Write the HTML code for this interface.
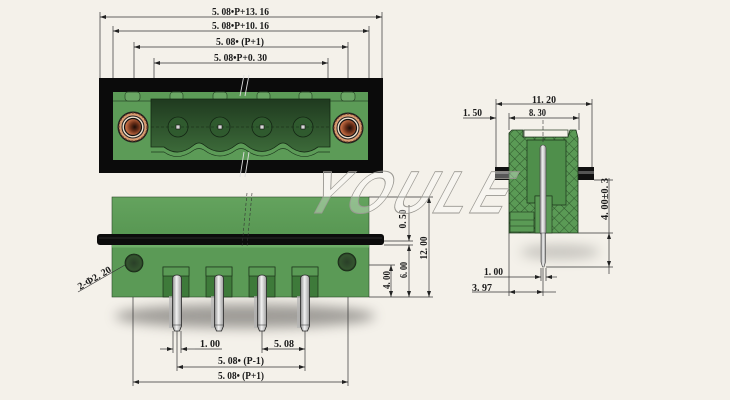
<!DOCTYPE html>
<html><head><meta charset="utf-8"><style>
html,body{margin:0;padding:0;background:#f4f1ea;}
svg{display:block;}
text{font-family:"Liberation Serif",serif;font-weight:bold;fill:#1a1a1a;font-size:10px;}
</style></head><body>
<svg width="730" height="400" viewBox="0 0 730 400" xmlns="http://www.w3.org/2000/svg">
<defs>
<marker id="ar" viewBox="0 0 6 4" markerWidth="6" markerHeight="4" refX="6" refY="2" orient="auto-start-reverse" markerUnits="userSpaceOnUse"><path d="M0,0 L6,2 L0,4 Z" fill="#222"/></marker>
<pattern id="hatch" width="7" height="7" patternUnits="userSpaceOnUse" patternTransform="rotate(45)"><rect width="7" height="7" fill="#5a9a55"/><path d="M0,0 V7 M0,0 H7" stroke="#1f3d1e" stroke-width="0.7"/></pattern>
<linearGradient id="pinG" x1="0" x2="1" y1="0" y2="0"><stop offset="0" stop-color="#8a8a8a"/><stop offset="0.45" stop-color="#f2f2f2"/><stop offset="1" stop-color="#9a9a9a"/></linearGradient>
<linearGradient id="houseG" x1="0" x2="0" y1="0" y2="1"><stop offset="0" stop-color="#1f3a1f"/><stop offset="1" stop-color="#3c6a39"/></linearGradient>
<linearGradient id="upG" x1="0" x2="0" y1="0" y2="1"><stop offset="0" stop-color="#64a35e"/><stop offset="1" stop-color="#589753"/></linearGradient>
<radialGradient id="holeG"><stop offset="0" stop-color="#2a3f28"/><stop offset="0.8" stop-color="#34542f"/><stop offset="1" stop-color="#1c2c1a"/></radialGradient>
<radialGradient id="cuG" cx="0.6" cy="0.5"><stop offset="0" stop-color="#1a0d08"/><stop offset="0.5" stop-color="#6b2f18"/><stop offset="1" stop-color="#c06a42"/></radialGradient>
<filter id="blur" x="-30%" y="-100%" width="160%" height="300%"><feGaussianBlur stdDeviation="6"/></filter>
</defs>

<!-- ============ TOP FRONT VIEW ============ -->
<g stroke="#333" stroke-width="0.7" fill="none">
<line x1="100" y1="12" x2="100" y2="78"/><line x1="382" y1="12" x2="382" y2="78"/>
<line x1="113" y1="26" x2="113" y2="78"/><line x1="369" y1="26" x2="369" y2="78"/>
<line x1="134" y1="42" x2="134" y2="78"/><line x1="348" y1="42" x2="348" y2="78"/>
<line x1="154" y1="58" x2="154" y2="78"/><line x1="328" y1="58" x2="328" y2="78"/>
<line x1="100" y1="17" x2="382" y2="17" marker-start="url(#ar)" marker-end="url(#ar)"/>
<line x1="113" y1="31" x2="369" y2="31" marker-start="url(#ar)" marker-end="url(#ar)"/>
<line x1="134" y1="47" x2="348" y2="47" marker-start="url(#ar)" marker-end="url(#ar)"/>
<line x1="154" y1="63" x2="328" y2="63" marker-start="url(#ar)" marker-end="url(#ar)"/>
</g>
<text x="212" y="15" textLength="57" lengthAdjust="spacingAndGlyphs">5. 08•P+13. 16</text>
<text x="212" y="29" textLength="57" lengthAdjust="spacingAndGlyphs">5. 08•P+10. 16</text>
<text x="216" y="45" textLength="48" lengthAdjust="spacingAndGlyphs">5. 08• (P+1)</text>
<text x="214" y="61" textLength="53" lengthAdjust="spacingAndGlyphs">5. 08•P+0. 30</text>

<rect x="99" y="78" width="284" height="95" fill="#0b0b0b"/>
<rect x="113" y="92" width="255" height="68" fill="#5c9b57"/>
<line x1="113" y1="101" x2="368" y2="101" stroke="#2a4a28" stroke-width="0.8"/>
<g fill="#6aa664" stroke="#2a4a28" stroke-width="0.7">
<rect x="125" y="92" width="15" height="9" rx="3"/>
<rect x="170" y="92" width="13" height="9" rx="3"/>
<rect x="213" y="92" width="14" height="9" rx="3"/>
<rect x="257" y="92" width="13" height="9" rx="3"/>
<rect x="299" y="92" width="13" height="9" rx="3"/>
<rect x="341" y="92" width="14" height="9" rx="3"/>
</g>
<path d="M151,99 L330,99 L330,147 L318,147 Q303,158 288,145 Q283,141 278,145 Q262,158 246,145 Q241,141 236,145 Q220,158 204,145 Q199,141 194,145 Q178,158 164,147 L151,147 Z" fill="url(#houseG)" stroke="#152815" stroke-width="0.8"/>
<path d="M151,152 L164,152 Q178,162 194,150 Q199,147 204,150 Q220,162 236,150 Q241,147 246,150 Q262,162 278,150 Q283,147 288,150 Q303,162 318,152 L330,152" fill="none" stroke="#1e3a1e" stroke-width="0.7"/>
<g stroke="#142614" stroke-width="0.8" fill="#2f5a2e">
<circle cx="178" cy="127" r="10"/><circle cx="220" cy="127" r="10"/><circle cx="262" cy="127" r="10"/><circle cx="303" cy="127" r="10"/>
</g>
<g stroke="#142614" stroke-width="0.6" fill="none" stroke-dasharray="3,2">
<line x1="151" y1="127" x2="330" y2="127"/>
</g>
<g fill="#d8d8d8" stroke="#111" stroke-width="0.6">
<rect x="176" y="125" width="4" height="4"/><rect x="218" y="125" width="4" height="4"/><rect x="260" y="125" width="4" height="4"/><rect x="301" y="125" width="4" height="4"/>
</g>
<!-- screw holes -->
<g>
<circle cx="133" cy="127" r="15.5" fill="#1c1c1c"/>
<circle cx="133" cy="127" r="14" fill="#d99c72" stroke="#6b4028" stroke-width="1.2" stroke-dasharray="2,1.6"/>
<circle cx="133" cy="127" r="11" fill="#efe0cc" stroke="#222" stroke-width="1"/>
<circle cx="133" cy="127" r="8.5" fill="url(#cuG)" stroke="#111" stroke-width="1.2"/>
<circle cx="348" cy="128" r="15.5" fill="#1c1c1c"/>
<circle cx="348" cy="128" r="14" fill="#d99c72" stroke="#6b4028" stroke-width="1.2" stroke-dasharray="2,1.6"/>
<circle cx="348" cy="128" r="11" fill="#efe0cc" stroke="#222" stroke-width="1"/>
<circle cx="348" cy="128" r="8.5" fill="url(#cuG)" stroke="#111" stroke-width="1.2"/>
</g>
<!-- break marks -->
<g stroke="#ddd" stroke-width="0.9">
<line x1="244" y1="75" x2="240" y2="96"/><line x1="249" y1="75" x2="245" y2="96"/>
<line x1="244" y1="152" x2="240" y2="177"/><line x1="249" y1="152" x2="245" y2="177"/>
</g>

<!-- ============ BOTTOM FRONT VIEW ============ -->
<ellipse cx="245" cy="316" rx="130" ry="12" fill="#7a7874" opacity="0.7" filter="url(#blur)"/>
<rect x="112" y="197" width="257" height="38" fill="url(#upG)" stroke="#2c4a2a" stroke-width="0.6"/>
<rect x="112" y="244" width="257" height="53" fill="#5b9a56" stroke="#2c4a2a" stroke-width="0.6"/>
<rect x="97" y="234" width="287" height="11" rx="3" fill="#0c0c0c"/>
<line x1="99" y1="238" x2="382" y2="238" stroke="#2a2a2a" stroke-width="1"/>
<rect x="112" y="245" width="257" height="2.5" fill="#6fae69"/>
<circle cx="134" cy="263" r="9" fill="url(#holeG)" stroke="#1a2a18" stroke-width="0.8"/>
<circle cx="347" cy="262" r="9" fill="url(#holeG)" stroke="#1a2a18" stroke-width="0.8"/>
<g stroke="#333" stroke-width="0.6" fill="none" stroke-dasharray="3,2">
<line x1="247" y1="193" x2="242" y2="247"/><line x1="252" y1="193" x2="247" y2="247"/>
</g>
<g>
<g id="slot">
<rect x="163" y="267" width="26" height="30" fill="#3e7a3a" stroke="#1d331b" stroke-width="0.7"/>
<rect x="163" y="267" width="26" height="9" fill="#5a9a55" stroke="#1d331b" stroke-width="0.7"/>
</g>
<use href="#slot" x="43"/><use href="#slot" x="86"/><use href="#slot" x="129"/>
</g>
<g id="pin" stroke="#2a2a2a" stroke-width="0.8">
<rect x="169" y="296" width="4" height="32" fill="#b5b5b5" stroke="none" opacity="0.7"/>
<path d="M172.5,279 Q172.5,275 177,275 Q181.5,275 181.5,279 L181.5,326 L179.5,331 L174.5,331 L172.5,326 Z" fill="url(#pinG)"/>
<line x1="172.5" y1="325" x2="181.5" y2="325" stroke-width="0.5"/>
</g>
<use href="#pin" x="42"/><use href="#pin" x="85"/><use href="#pin" x="128"/>
<g stroke="#333" stroke-width="0.7" fill="none">
<!-- 2-phi leader -->
<line x1="78" y1="292" x2="125" y2="265"/>
<!-- bottom dims ext -->
<line x1="133" y1="297" x2="133" y2="386"/><line x1="348" y1="297" x2="348" y2="386"/>
<line x1="177" y1="331" x2="177" y2="371"/><line x1="305" y1="331" x2="305" y2="371"/>
<line x1="173" y1="331" x2="173" y2="353"/><line x1="181" y1="331" x2="181" y2="353"/>
<line x1="262" y1="331" x2="262" y2="353"/>
<line x1="160" y1="349" x2="173" y2="349" marker-end="url(#ar)"/>
<line x1="195" y1="349" x2="181" y2="349" marker-end="url(#ar)"/>
<line x1="195" y1="349" x2="222" y2="349"/>
<line x1="262" y1="349" x2="305" y2="349" marker-start="url(#ar)" marker-end="url(#ar)"/>
<line x1="177" y1="367" x2="305" y2="367" marker-start="url(#ar)" marker-end="url(#ar)"/>
<line x1="133" y1="382" x2="348" y2="382" marker-start="url(#ar)" marker-end="url(#ar)"/>
<!-- right vertical dims -->
<line x1="369" y1="197" x2="433" y2="197"/><line x1="369" y1="297" x2="433" y2="297"/>
<line x1="384" y1="245" x2="413" y2="245"/><line x1="384" y1="241" x2="413" y2="241"/>
<line x1="369" y1="265" x2="395" y2="265"/>
<line x1="429" y1="197" x2="429" y2="297" marker-start="url(#ar)" marker-end="url(#ar)"/>
<line x1="409" y1="245" x2="409" y2="297" marker-start="url(#ar)" marker-end="url(#ar)"/>
<line x1="409" y1="205" x2="409" y2="241" marker-end="url(#ar)"/>
<line x1="391" y1="265" x2="391" y2="297" marker-start="url(#ar)" marker-end="url(#ar)"/>
</g>
<text x="200" y="347" textLength="20" lengthAdjust="spacingAndGlyphs">1. 00</text>
<text x="274" y="347" textLength="20" lengthAdjust="spacingAndGlyphs">5. 08</text>
<text x="218" y="364" textLength="46" lengthAdjust="spacingAndGlyphs">5. 08• (P-1)</text>
<text x="218" y="379" textLength="46" lengthAdjust="spacingAndGlyphs">5. 08• (P+1)</text>
<text x="80" y="290" textLength="37" lengthAdjust="spacingAndGlyphs" transform="rotate(-30 80 290)">2-Φ2. 20</text>
<text x="403" y="222" text-anchor="middle" textLength="19" lengthAdjust="spacingAndGlyphs" transform="rotate(-90 403 219)">0. 50</text>
<text x="424" y="251" text-anchor="middle" textLength="23" lengthAdjust="spacingAndGlyphs" transform="rotate(-90 424 248)">12. 00</text>
<text x="404" y="273" text-anchor="middle" textLength="16" lengthAdjust="spacingAndGlyphs" transform="rotate(-90 404 270)">6. 00</text>
<text x="387" y="283" text-anchor="middle" textLength="18" lengthAdjust="spacingAndGlyphs" transform="rotate(-90 387 280)">4. 00</text>

<!-- ============ SIDE VIEW ============ -->
<g stroke="#333" stroke-width="0.7" fill="none">
<line x1="496" y1="99" x2="496" y2="168"/><line x1="592" y1="99" x2="592" y2="168"/>
<line x1="509" y1="113" x2="509" y2="130"/><line x1="579" y1="113" x2="579" y2="130"/>
<line x1="496" y1="104" x2="592" y2="104" marker-start="url(#ar)" marker-end="url(#ar)"/>
<line x1="509" y1="118" x2="579" y2="118" marker-start="url(#ar)" marker-end="url(#ar)"/>
<line x1="463" y1="118" x2="496" y2="118" marker-end="url(#ar)"/>
<!-- bottom -->
<line x1="509" y1="233" x2="509" y2="296"/><line x1="543" y1="268" x2="543" y2="296"/>
<line x1="541" y1="268" x2="541" y2="281"/><line x1="546" y1="268" x2="546" y2="281"/>
<line x1="484" y1="277" x2="541" y2="277" marker-end="url(#ar)"/>
<line x1="557" y1="277" x2="546" y2="277" marker-end="url(#ar)"/>
<line x1="472" y1="292" x2="509" y2="292"/>
<line x1="509" y1="292" x2="543" y2="292" marker-start="url(#ar)" marker-end="url(#ar)"/>
<line x1="543" y1="292" x2="556" y2="292"/>
<!-- 4.00 -->
<line x1="594" y1="180" x2="613" y2="180"/>
<line x1="578" y1="233" x2="613" y2="233"/><line x1="546" y1="267" x2="613" y2="267"/>
<line x1="609" y1="178" x2="609" y2="233" />
<line x1="609" y1="233" x2="609" y2="267" marker-start="url(#ar)" marker-end="url(#ar)"/>
<line x1="609" y1="267" x2="609" y2="274"/>
</g>
<text x="532" y="103" textLength="24" lengthAdjust="spacingAndGlyphs">11. 20</text>
<text x="529" y="116" textLength="17" lengthAdjust="spacingAndGlyphs">8. 30</text>
<text x="463" y="116" textLength="19" lengthAdjust="spacingAndGlyphs">1. 50</text>
<text x="484" y="275" textLength="19" lengthAdjust="spacingAndGlyphs">1. 00</text>
<text x="472" y="291" textLength="20" lengthAdjust="spacingAndGlyphs">3. 97</text>
<text x="605" y="202" text-anchor="middle" textLength="42" lengthAdjust="spacingAndGlyphs" transform="rotate(-90 605 199)">4. 00±0. 3</text>

<!-- flange stubs -->
<rect x="495" y="167" width="15" height="13" fill="#111"/>
<rect x="495" y="171" width="15" height="3" fill="#555"/>
<rect x="577" y="167" width="17" height="13" fill="#111"/>
<rect x="577" y="171" width="17" height="3" fill="#555"/>
<!-- body -->
<ellipse cx="560" cy="252" rx="40" ry="7" fill="#8c8a86" opacity="0.45" filter="url(#blur)"/>
<path d="M509,133 L512,130 L523,130 L523,137 L568,137 L570,130 L576,130 L578,138 L578,233 L509,233 Z" fill="url(#hatch)" stroke="#1b331a" stroke-width="0.8"/>
<rect x="524" y="130" width="44" height="7" fill="#f4f1ea" stroke="#1b331a" stroke-width="0.7"/>
<path d="M527,140 L566,140 L566,205 L552,205 L552,196 L535,196 L535,203 L527,203 Z" fill="#4f8f4b" stroke="#1b331a" stroke-width="0.7"/>
<rect x="510" y="212" width="24" height="20" fill="#5a9a55" stroke="#1b331a" stroke-width="0.6"/>
<line x1="510" y1="220" x2="534" y2="220" stroke="#1b331a" stroke-width="0.6"/>
<line x1="510" y1="226" x2="534" y2="226" stroke="#1b331a" stroke-width="0.6"/>
<rect x="535" y="196" width="17" height="37" fill="#5a9a55" stroke="#1b331a" stroke-width="0.6"/>
<line x1="543" y1="120" x2="543" y2="142" stroke="#333" stroke-width="0.6" stroke-dasharray="4,2"/>
<!-- pin -->
<rect x="540" y="145" width="6" height="90" rx="3" fill="url(#pinG)" stroke="#444" stroke-width="0.6"/>
<path d="M541,233 L545.5,233 L545.5,262 L544,267 L542.5,267 L541,262 Z" fill="url(#pinG)" stroke="#444" stroke-width="0.6"/>

<!-- ============ WATERMARK ============ -->
<text x="302" y="213" textLength="205" lengthAdjust="spacingAndGlyphs" transform="skewX(-28) translate(112 0)" style="font-family:'Liberation Sans',sans-serif;font-weight:bold;font-size:60px;fill:#ffffff;fill-opacity:0.3;stroke:#9a9892;stroke-width:0.9;letter-spacing:6px">YOULE</text>
</svg>
</body></html>
